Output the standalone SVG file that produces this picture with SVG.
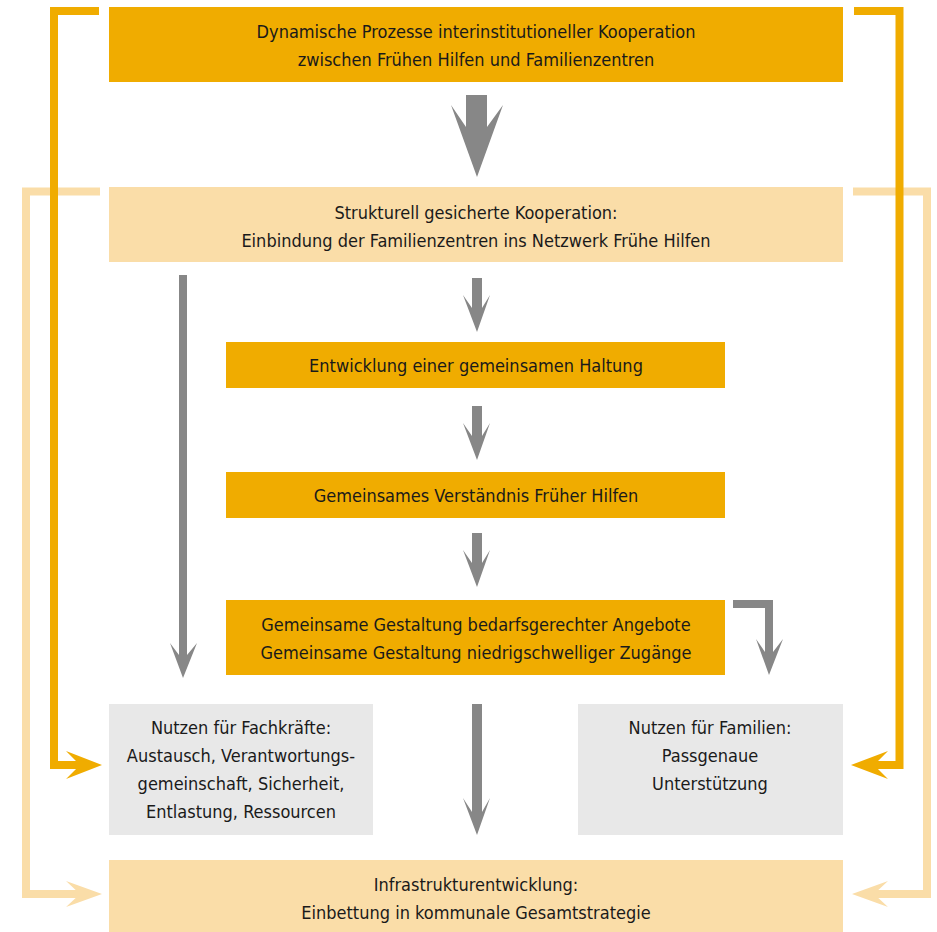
<svg xmlns="http://www.w3.org/2000/svg" width="937" height="932" viewBox="0 0 937 932">
<style>
.dark{fill:#F0AC00}
.light{fill:#FADDA8}
.grey{fill:#E8E8E8}
.arr{fill:#878787}
.t{font-family:"Liberation Sans Narrow","DejaVu Sans Condensed","Liberation Sans",sans-serif;font-size:18px;fill:#1a1a1a;text-anchor:middle}
.lo{fill:none;stroke:#FADDA8;stroke-width:8}
.do{fill:none;stroke:#F0AC00;stroke-width:8}
</style>
<rect width="937" height="932" fill="#ffffff"/>
<g id="connectors">
<path class="lo" d="M100,191.5 H26 V894 H80"/>
<polygon fill="#FADDA8" points="102,894 66,881 80,894 66,907"/>
<path class="lo" d="M853,191.5 H927 V894 H873"/>
<polygon fill="#FADDA8" points="852,894 888,881 874,894 888,907"/>
<path class="do" d="M99,11 H54 V765 H80"/>
<polygon class="dark" points="102,765 66,751 80,765 66,779"/>
<path class="do" d="M854,11 H899.5 V765 H873"/>
<polygon class="dark" points="851,765 888,751 874,765 888,779"/>
<polygon class="arr" points="466,95 487,95 487,127 503,105 477,177 451,105 466,127"/>
<polygon class="arr" points="472,278 482,278 482,308 490,295 477,332 463,295 472,308"/>
<polygon class="arr" points="472,406 482,406 482,436 490,423 477,460 463,423 472,436"/>
<polygon class="arr" points="472,533 482,533 482,563 490,550 477,587 463,550 472,563"/>
<polygon class="arr" points="179,275 187,275 187,655 197,643 183,678 170,643 179,655"/>
<polygon class="arr" points="472,704 482,704 482,812 490,798 477,835 463,798 472,812"/>
<polygon class="arr" points="733,600 773,600 773,652 783,639 769,675 756,639 765,652 765,608 733,608"/>
</g>
<g id="n1">
<rect class="dark" x="109" y="7" width="734" height="75"/>
<text class="t" x="476" y="38">Dynamische Prozesse interinstitutioneller Kooperation</text>
<text class="t" x="476" y="66">zwischen Frühen Hilfen und Familienzentren</text>
</g>
<g id="n2">
<rect class="light" x="109" y="187" width="734" height="75"/>
<text class="t" x="476" y="219">Strukturell gesicherte Kooperation:</text>
<text class="t" x="476" y="247">Einbindung der Familienzentren ins Netzwerk Frühe Hilfen</text>
</g>
<g id="n3">
<rect class="dark" x="226" y="342" width="499" height="46"/>
<text class="t" x="476" y="372">Entwicklung einer gemeinsamen Haltung</text>
</g>
<g id="n4">
<rect class="dark" x="226" y="472" width="499" height="46"/>
<text class="t" x="476" y="502">Gemeinsames Verständnis Früher Hilfen</text>
</g>
<g id="n5">
<rect class="dark" x="226" y="600" width="499" height="75"/>
<text class="t" x="476" y="631">Gemeinsame Gestaltung bedarfsgerechter Angebote</text>
<text class="t" x="476" y="659">Gemeinsame Gestaltung niedrigschwelliger Zugänge</text>
</g>
<g id="n6">
<rect class="grey" x="109" y="704" width="264" height="131"/>
<text class="t" x="241" y="734">Nutzen für Fachkräfte:</text>
<text class="t" x="241" y="762">Austausch, Verantwortungs-</text>
<text class="t" x="241" y="790">gemeinschaft, Sicherheit,</text>
<text class="t" x="241" y="818">Entlastung, Ressourcen</text>
</g>
<g id="n7">
<rect class="grey" x="578" y="704" width="265" height="131"/>
<text class="t" x="710" y="734">Nutzen für Familien:</text>
<text class="t" x="710" y="762">Passgenaue</text>
<text class="t" x="710" y="790">Unterstützung</text>
</g>
<g id="n8">
<rect class="light" x="109" y="860" width="734" height="72"/>
<text class="t" x="476" y="891">Infrastrukturentwicklung:</text>
<text class="t" x="476" y="919">Einbettung in kommunale Gesamtstrategie</text>
</g>
</svg>
